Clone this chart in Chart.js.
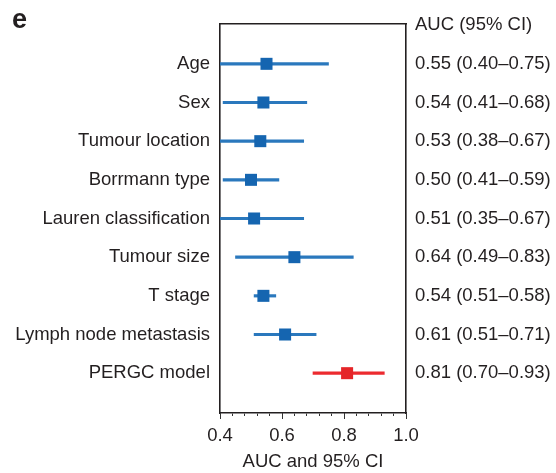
<!DOCTYPE html>
<html>
<head>
<meta charset="utf-8">
<script src="https://cdn.jsdelivr.net/npm/chart.js@4"></script>
<style>
  body { margin: 0; background: #fff; }
  #wrap { width: 556px; height: 473px; position: relative; }
</style>
</head>
<body>
<div id="wrap"><canvas id="myChart"></canvas></div>
<script>
// Forest plot data
const labels = ['Age', 'Sex', 'Tumour location', 'Borrmann type', 'Lauren classification',
  'Tumour size', 'T stage', 'Lymph node metastasis', 'PERGC model'];
const auc = [0.55, 0.54, 0.53, 0.50, 0.51, 0.64, 0.54, 0.61, 0.81];
const ciLow = [0.40, 0.41, 0.38, 0.41, 0.35, 0.45, 0.51, 0.51, 0.70];
const ciHigh = [0.75, 0.68, 0.67, 0.59, 0.67, 0.83, 0.58, 0.71, 0.93];
const aucText = ['0.55 (0.40–0.75)', '0.54 (0.41–0.68)', '0.53 (0.38–0.67)', '0.50 (0.41–0.59)',
  '0.51 (0.35–0.67)', '0.64 (0.49–0.83)', '0.54 (0.51–0.58)', '0.61 (0.51–0.71)', '0.81 (0.70–0.93)'];
const headerText = 'AUC (95% CI)';
const xTickLabels = ['0.4', '0.6', '0.8', '1.0'];

const FONT = "'Liberation Sans', Arial, Helvetica, sans-serif";
const FS = 18.5;
const TEXT = '#231f20';
const highlight = labels.length - 1;

// draw panel letter and the longer major ticks
const extras = {
  id: 'extras',
  afterDraw(chart) {
    const ctx = chart.ctx;
    const x = chart.scales.x;
    ctx.save();
    ctx.fillStyle = TEXT;
    ctx.font = "bold 27px " + FONT;
    ctx.textBaseline = 'middle';
    ctx.fillText('e', 12, 21);
    ctx.strokeStyle = '#333';
    ctx.lineWidth = 1;
    [0.4, 0.6, 0.8, 1.0].forEach(v => {
      const px = Math.round(x.getPixelForValue(v)) + 0.5;
      ctx.beginPath();
      ctx.moveTo(px, chart.chartArea.bottom);
      ctx.lineTo(px, chart.chartArea.bottom + 6);
      ctx.stroke();
    });
    ctx.restore();
  }
};

const rowTicks = axis => {
  axis.ticks = [];
  for (let i = -1; i < labels.length; i++) axis.ticks.push({ value: i });
};

new Chart(document.getElementById('myChart'), {
  type: 'scatter',
  data: {
    datasets: [
      {
        type: 'bar',
        indexAxis: 'y',
        data: labels.map((l, i) => ({ x: [ciLow[i], ciHigh[i]], y: i })),
        backgroundColor: c => c.dataIndex === highlight ? '#ec2a2f' : '#2a78bd',
        barThickness: 2.5,
        borderWidth: 0,
        order: 2
      },
      {
        data: labels.map((l, i) => ({ x: auc[i], y: i })),
        pointStyle: 'rect',
        pointRadius: 8.5,
        pointHoverRadius: 8.5,
        borderWidth: 0,
        backgroundColor: c => c.dataIndex === highlight ? '#e52528' : '#1565b0',
        order: 1
      }
    ]
  },
  options: {
    responsive: true,
    maintainAspectRatio: false,
    animation: false,
    layout: { padding: { top: 24, left: 0, right: 0, bottom: 0 } },
    plugins: { legend: { display: false }, tooltip: { enabled: false } },
    scales: {
      x: {
        type: 'linear',
        position: 'bottom',
        min: 0.4,
        max: 1.0,
        afterBuildTicks: axis => {
          axis.ticks = [];
          for (let i = 0; i <= 15; i++) axis.ticks.push({ value: 0.4 + i * 0.04 });
        },
        afterFit: s => { s.height = 60; },
        grid: { display: true, drawOnChartArea: false, drawTicks: true, tickLength: 3, color: '#333' },
        border: { display: true, color: '#231f20', width: 1.6 },
        ticks: {
          autoSkip: false,
          maxRotation: 0,
          padding: 9,
          color: TEXT,
          font: { family: FONT, size: FS },
          callback: (v, i) => i % 5 === 0 ? xTickLabels[i / 5] : ''
        },
        title: {
          display: true,
          text: 'AUC and 95% CI',
          color: TEXT,
          font: { family: FONT, size: FS },
          padding: { top: 0, bottom: 0 }
        }
      },
      x2: {
        type: 'linear',
        position: 'top',
        min: 0.4,
        max: 1.0,
        afterFit: s => { s.height = 0; },
        grid: { display: false, drawTicks: false },
        border: { display: true, color: '#231f20', width: 1.6 },
        ticks: { display: false }
      },
      y: {
        type: 'linear',
        position: 'left',
        reverse: true,
        offset: false,
        min: -1.03,
        max: 9.03,
        afterBuildTicks: rowTicks,
        afterFit: s => { s.width = 220; },
        grid: { display: false, drawTicks: false, offset: false },
        border: { display: true, color: '#231f20', width: 1.6 },
        ticks: {
          autoSkip: false,
          padding: 10,
          color: TEXT,
          font: { family: FONT, size: FS },
          callback: v => v >= 0 ? labels[v] : ''
        }
      },
      y2: {
        type: 'linear',
        position: 'right',
        reverse: true,
        offset: false,
        min: -1.03,
        max: 9.03,
        afterBuildTicks: rowTicks,
        afterFit: s => { s.width = 150; },
        grid: { display: false, drawTicks: false },
        border: { display: true, color: '#231f20', width: 1.6 },
        ticks: {
          autoSkip: false,
          padding: 9,
          color: TEXT,
          font: { family: FONT, size: FS },
          callback: v => v < 0 ? headerText : aucText[v]
        }
      }
    }
  },
  plugins: [extras]
});
</script>
</body>
</html>
